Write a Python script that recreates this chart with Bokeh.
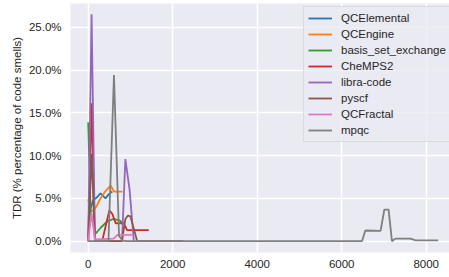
from bokeh.plotting import figure
from bokeh.models import FixedTicker, NumeralTickFormatter, Range1d
from bokeh.embed import file_html
from bokeh.resources import INLINE

names = ["QCElemental", "QCEngine", "basis_set_exchange", "CheMPS2",
         "libra-code", "pyscf", "QCFractal", "mpqc"]
colors = ["#1f77b4", "#ff7f0e", "#2ca02c", "#d62728",
          "#9467bd", "#8c564b", "#e377c2", "#7f7f7f"]

qcelemental_x = [40, 120, 200, 290, 410, 490, 570]
qcelemental_y = [3.6, 4.8, 5.1, 5.6, 5.0, 5.5, 5.8]

qcengine_x = [0, 60, 130, 210, 290, 400, 530, 610, 700, 810]
qcengine_y = [4.9, 3.5, 3.6, 4.2, 5.0, 5.8, 6.5, 5.8, 5.8, 5.8]

bse_x = [0, 60, 180, 300, 450, 600, 750, 800]
bse_y = [13.9, 3.0, 0.9, 1.6, 2.3, 2.6, 2.4, 2.2]

chemps2_x = [0, 80, 160, 330, 500, 570, 650, 840, 920, 1434]
chemps2_y = [0, 16.1, 0, 0, 3.6, 3.2, 2.1, 2.1, 1.3, 1.3]

libra_x = [0, 80, 160, 800, 880, 980, 1080]
libra_y = [0, 26.5, 0, 0, 9.6, 6.0, 0]

pyscf_x = [0, 80, 160, 800, 880, 940, 1000, 1160, 2250]
pyscf_y = [0, 10.2, 0, 0, 2.6, 3.0, 2.9, 0, 0]

qcfractal_x = [0, 80, 160, 600, 700, 1040]
qcfractal_y = [0, 3.3, 0.2, 0.3, 0.75, 0.75]

mpqc_x = [0, 480, 610, 730, 810, 900, 6480, 6560, 6920, 7010, 7110, 7190,
          7270, 7630, 7750, 8284]
mpqc_y = [0, 0, 19.4, 0.6, 0.1, 0, 0, 1.25, 1.2, 3.7, 3.7, 0, 0.3, 0.3, 0.1, 0.1]

series_x = [qcelemental_x, qcengine_x, bse_x, chemps2_x, libra_x, pyscf_x,
            qcfractal_x, mpqc_x]
series_y = [qcelemental_y, qcengine_y, bse_y, chemps2_y, libra_y, pyscf_y,
            qcfractal_y, mpqc_y]

x_ticks = [0, 2000, 4000, 6000, 8000]
y_ticks = [0.0, 0.05, 0.10, 0.15, 0.20, 0.25]

FONT = "Liberation Sans"
TXT = "#262626"

p = figure(width=449, height=277, output_backend="svg", toolbar_location=None,
           x_range=Range1d(-419, 8552), y_range=Range1d(-0.0132, 0.2777),
           min_border_left=70, min_border_right=0, min_border_top=3,
           min_border_bottom=25)
p.background_fill_color = "#EAEAF2"
p.border_fill_color = "white"
p.outline_line_color = None

for xs, ys, name, col in zip(series_x, series_y, names, colors):
    p.line([float(v) for v in xs], [v / 100.0 for v in ys], line_color=col,
           line_width=1.8, legend_label=name)

for ax in (p.xaxis[0], p.yaxis[0]):
    ax.axis_line_color = None
    ax.major_tick_line_color = None
    ax.minor_tick_line_color = None
    ax.major_tick_out = 0
    ax.major_tick_in = 0
    ax.minor_tick_out = 0
    ax.minor_tick_in = 0
    ax.major_label_text_font = FONT
    ax.major_label_text_font_size = "11.5px"
    ax.major_label_text_color = TXT
    ax.axis_label_text_font = FONT
    ax.axis_label_text_font_size = "11.5px"
    ax.axis_label_text_font_style = "normal"
    ax.axis_label_text_color = TXT

p.xaxis.ticker = FixedTicker(ticks=x_ticks)
p.yaxis.ticker = FixedTicker(ticks=y_ticks)
p.yaxis.formatter = NumeralTickFormatter(format="0.0%")
p.xaxis.major_label_standoff = 7
p.yaxis.major_label_standoff = 9
p.yaxis.axis_label = "TDR (% percentage of code smells)"
p.yaxis.axis_label_standoff = 3

for g in (p.xgrid[0], p.ygrid[0]):
    g.grid_line_color = "white"
    g.grid_line_width = 1.5
p.xgrid.ticker = FixedTicker(ticks=x_ticks)
p.ygrid.ticker = FixedTicker(ticks=y_ticks)

lg = p.legend[0]
lg.location = (233, 110)
lg.margin = 0
lg.padding = 4
lg.spacing = 2
lg.label_height = 14
lg.glyph_height = 14
lg.glyph_width = 24
lg.label_standoff = 9
lg.label_text_font = FONT
lg.label_text_font_size = "11.5px"
lg.label_text_color = TXT
lg.background_fill_color = "#EAEAF2"
lg.background_fill_alpha = 0.8
lg.border_line_color = "#CCCCCC"
lg.border_line_width = 1

open("out.html", "w").write(file_html(p, INLINE))
